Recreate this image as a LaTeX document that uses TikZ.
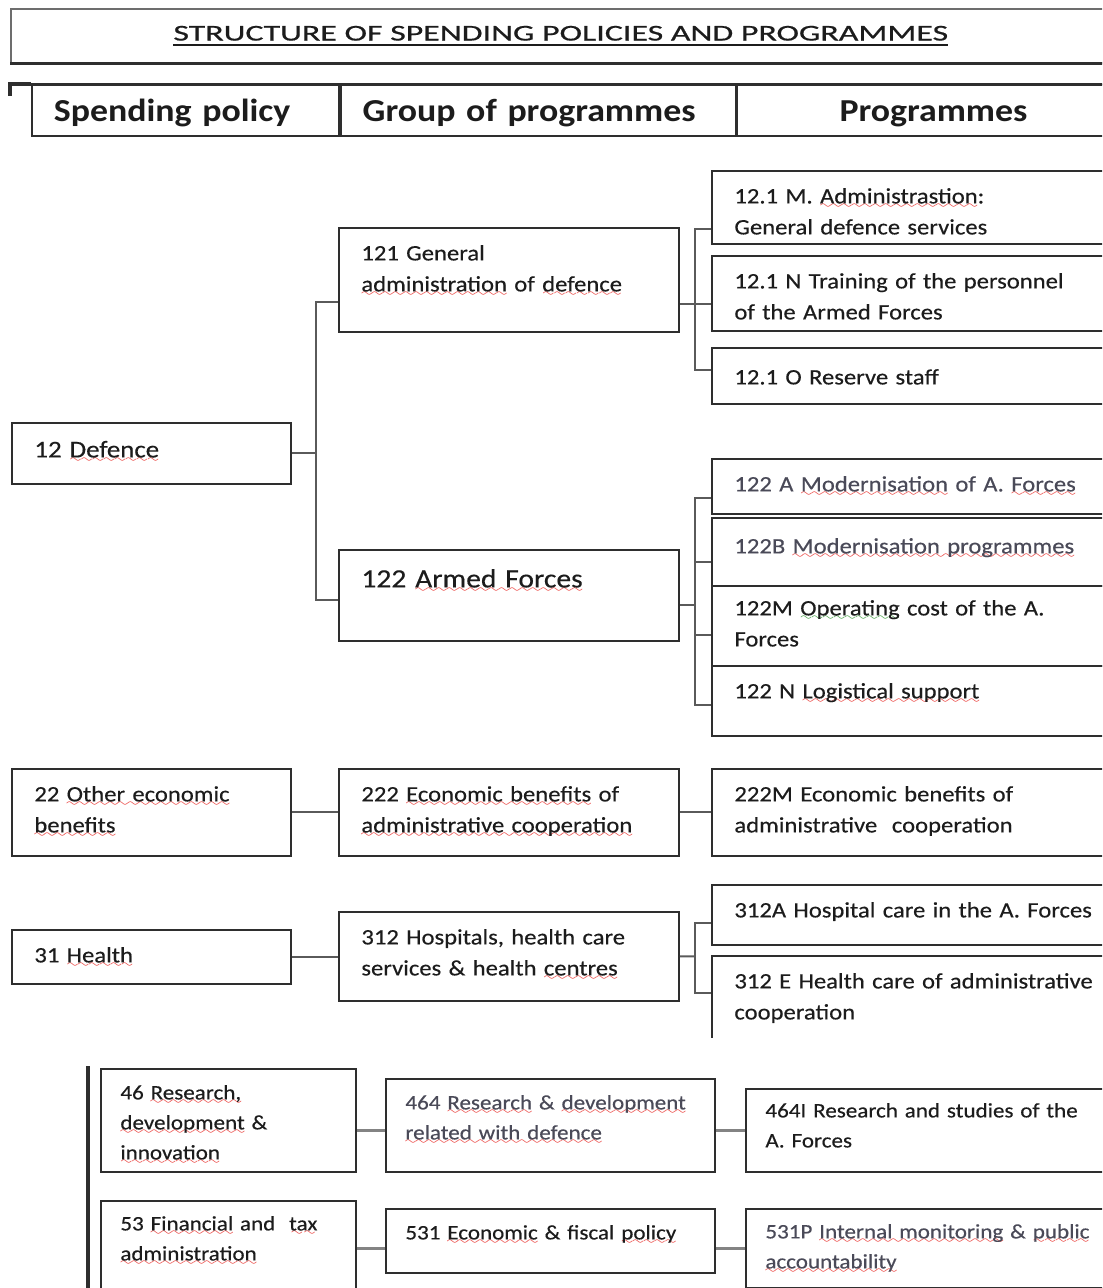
\documentclass[tikz,border=0pt]{standalone}
\usepackage{fontspec}
\setmainfont{Carlito}[FakeStretch=1.12]
\newfontfamily\bodyfam{Carlito}[FakeStretch=1.12, FakeBold=0.4]
\newfontfamily\titlefont{Carlito}[FakeStretch=1.5, FakeBold=0.7]
\usetikzlibrary{positioning,calc}

\definecolor{boxline}{HTML}{2E2E2E}
\definecolor{linkgray}{HTML}{5A5A5A}
\definecolor{ink}{HTML}{1C1C1C}
\definecolor{inklight}{HTML}{4A4A58}
\definecolor{spellred}{HTML}{E8322E}
\definecolor{spellgreen}{HTML}{3A9A3A}

% spell-check squiggles and title underline
\font\sixly=lasy6
\newbox\wavybox
\newcommand\wavy[2]{\leavevmode\setbox\wavybox\hbox{#2}\rlap{\lower2.6pt\hbox to\wd\wavybox{\color{#1}\xleaders\hbox{\sixly\char58}\hfil}}\box\wavybox}
\newcommand\sq[1]{\wavy{spellred}{#1}}
\newcommand\gq[1]{\wavy{spellgreen}{#1}}
\newcommand\tul[1]{\leavevmode\setbox\wavybox\hbox{#1}\rlap{\raisebox{-2.6pt}{\rule{\wd\wavybox}{1pt}}}\box\wavybox}
\newcommand\fl[1][16.5pt]{\rule{0pt}{#1}}
\newcommand\bodyfont{\bodyfam\fontsize{11}{15.5}\selectfont}
\newcommand\lowfont{\bodyfam\fontsize{10.3}{15}\selectfont}
\newcommand\headfont{\bfseries\fontsize{16}{18}\selectfont}

\begin{document}
\begin{tikzpicture}[x=0.5pt, y=-0.5pt,
  cell/.style={draw=boxline, line width=0.9pt, anchor=north west, inner sep=0pt},
  colone/.style={cell, minimum width=139.5pt},
  coltwo/.style={cell, minimum width=170pt},
  colthree/.style={cell, minimum width=212pt},
  txt/.style={anchor=north west, align=left, text width=250pt, inner xsep=11.5pt, inner ysep=0pt, font=\bodyfont, text=ink},
  lowtxt/.style={txt, inner xsep=10pt, font=\lowfont},
  head/.style={draw=boxline, line width=0.9pt, minimum height=25.5pt, inner xsep=11pt, inner ysep=0pt, text height=11pt, text depth=0pt, font=\headfont, text=ink},
  link/.style={draw=linkgray, line width=1pt},
  lowlink/.style={draw=linkgray!75, line width=1.4pt}]
\useasboundingbox (0,0) rectangle (1102,1288);
\clip (0,0) rectangle (1102,1288);

% title and header row
\node[draw=boxline!70, line width=0.8pt, anchor=north west, minimum width=550pt, minimum height=27pt, inner sep=0pt,
  font=\titlefont\fontsize{11.3}{13}\selectfont, text=ink] (title) at (10,8)
  {\tul{STRUCTURE OF SPENDING POLICIES AND PROGRAMMES}\hspace{5pt}};
\draw[boxline, line width=1.6pt] (title.south west) -- (title.south east);
\node[head, anchor=north west, text width=131.5pt, align=left] (hspend) at (31,84) {Spending policy};
\node[head, right=0pt of hspend, text width=175.5pt, align=left] (hgroup) {Group of programmes};
\node[head, right=0pt of hgroup, text width=174pt, align=center] (hprog) {Programmes};
\draw[boxline, line width=1.4pt] (hspend.north west) -- (hprog.north east);
\draw[boxline, line width=1.6pt] (hspend.north west) -- ++(-21,0) -- ++(0,12);

\begin{scope}
\clip (0,0) rectangle (1102,1037);
% spending policies
\node[colone, minimum height=30.5pt, label={[txt, font=\bodyfam\fontsize{12}{15}\selectfont]north west:{\fl[17.5pt]12 \sq{Defence}}}] (d12) at (11,422) {};
\node[colone, minimum height=43.5pt, label={[txt]north west:{\fl 22 \sq{Other economic}\\ \sq{benefits}}}] (p22) at (11,768) {};
\node[colone, minimum height=27pt, label={[txt]north west:{\fl 31 \sq{Health}}}] (p31) at (11,929) {};
% groups of programmes
\node[coltwo, minimum height=52pt, label={[txt]north west:{\fl 121 General\\ \sq{administration} of \sq{defence}}}] (g121) at (338,227) {};
\node[coltwo, minimum height=45.5pt, label={[txt, font=\bodyfam\fontsize{13.2}{15}\selectfont]north west:{\fl[19pt]122 \sq{Armed Forces}}}] (g122) at (338,549) {};
\node[coltwo, minimum height=43.5pt, label={[txt]north west:{\fl 222 \sq{Economic benefits} of\\ \sq{administrative cooperation}}}] (g222) at (338,768) {};
\node[coltwo, minimum height=44.5pt, label={[txt]north west:{\fl 312 Hospitals, health care\\ services \& health \sq{centres}}}] (g312) at (338,911) {};
% programmes
\node[colthree, minimum height=36.5pt, label={[txt]north west:{\fl 12.1 M. \sq{Administrastion}:\\ General defence services}}] (c121M) at (711,170) {};
\node[colthree, minimum height=37.5pt, label={[txt]north west:{\fl 12.1 N Training of the personnel\\ of the Armed Forces}}] (c121N) at (711,255) {};
\node[colthree, minimum height=28pt, label={[txt]north west:{\fl[18.5pt]12.1 O Reserve staff}}] (c121O) at (711,347) {};
\node[colthree, minimum height=27.5pt, label={[txt, text=inklight]north west:{\fl 122 A \sq{Modernisation} of A. \sq{Forces}}}] (c122A) at (711,458) {};
\node[colthree, minimum height=34pt, label={[txt, text=inklight]north west:{\fl[18pt]122B \sq{Modernisation programmes}}}] (c122B) at (711,517) {};
\node[colthree, minimum height=40pt, label={[txt]north west:{\fl[15pt]122M \gq{Operating} cost of the A.\\ Forces}}] (c122M) at (711,585) {};
\node[colthree, minimum height=35pt, label={[txt]north west:{\fl 122 N \sq{Logistical support}}}] (c122N) at (711,665) {};
\node[colthree, minimum height=43.5pt, label={[txt]north west:{\fl 222M Economic benefits of\\ administrative\ \ cooperation}}] (c222M) at (711,768) {};
\node[colthree, minimum height=30pt, label={[txt]north west:{\fl 312A Hospital care in the A. Forces}}] (c312A) at (711,884) {};
\node[colthree, minimum height=52pt, label={[txt]north west:{\fl 312 E Health care of administrative\\ cooperation}}] (c312E) at (711,955) {};

% links
\draw[link] (d12.east) -- ++(24,0) coordinate (bus12);
\draw[link] (g121.west |- 0,302) -| (bus12) |- (g122.west |- 0,600);
\coordinate (bus121) at ($(g121.east)!0.5!(c121N.west)$);
\draw[link] (g121.east |- 0,304) -- (c121N.west |- 0,304);
\draw[link] (c121M.west |- 0,229) -| (bus121) |- (c121O.west |- 0,370);
\coordinate (bus122) at ($(g122.east)!0.5!(c122M.west)$);
\draw[link] (g122.east |- 0,605) -- (bus122 |- 0,605);
\draw[link] (c122A.west |- 0,498) -| (bus122) |- (c122N.west |- 0,705);
\draw[link] (bus122 |- 0,562) -- (c122B.west |- 0,562);
\draw[link] (bus122 |- 0,635) -- (c122M.west |- 0,635);
\draw[link] (p22.east) -- (g222.west);
\draw[link] (g222.east) -- (c222M.west);
\draw[link] (p31.east) -- (p31.east -| g312.west);
\coordinate (bus312) at ($(g312.east)!0.5!(c312A.west |- g312.east)$);
\draw[link] (g312.east) -- (bus312);
\draw[link] (c312A.west |- 0,923) -| (bus312) |- (c312E.west |- 0,993);
\end{scope}

% lower part
\draw[boxline, line width=1.6pt] (88,1066) -- (88,1288);
\node[cell, minimum width=127.5pt, minimum height=51.5pt, label={[lowtxt]north west:{\fl[15.5pt]46 \sq{Research,}\\ \sq{development} \&\\ \sq{innovation}}}] (p46) at (100,1068) {};
\node[cell, minimum width=164.5pt, minimum height=46.5pt, label={[lowtxt, text=inklight]north west:{\fl[15.5pt]464 \sq{Research} \& \sq{development}\\ \sq{related with defence}}}] (g464) at (385,1078) {};
\node[cell, minimum width=200pt, minimum height=41.5pt, label={[lowtxt]north west:{\fl[14.5pt]464I Research and studies of the\\ A. Forces}}] (c464I) at (745,1088) {};
\node[cell, minimum width=127.5pt, minimum height=60pt, label={[lowtxt]north west:{\fl[15pt]53 \sq{Financial} and\ \ \sq{tax}\\ \sq{administration}}}] (p53) at (100,1200) {};
\node[cell, minimum width=164.5pt, minimum height=32pt, label={[lowtxt]north west:{\fl[15.5pt]531 \sq{Economic} \& fiscal \sq{policy}}}] (g531) at (385,1208) {};
\node[cell, minimum width=200pt, minimum height=39.5pt, label={[lowtxt, text=inklight]north west:{\fl[15pt]531P \sq{Internal monitoring} \& \sq{public}\\ \sq{accountability}}}] (c531P) at (745,1208) {};
\draw[lowlink] (p46.east |- c464I.west) -- (g464.west |- c464I.west);
\draw[lowlink] (g464.east |- c464I.west) -- (c464I.west);
\draw[lowlink] (p53.east |- c531P.west) -- (g531.west |- c531P.west);
\draw[lowlink] (g531.east |- c531P.west) -- (c531P.west);
\end{tikzpicture}
\end{document}
